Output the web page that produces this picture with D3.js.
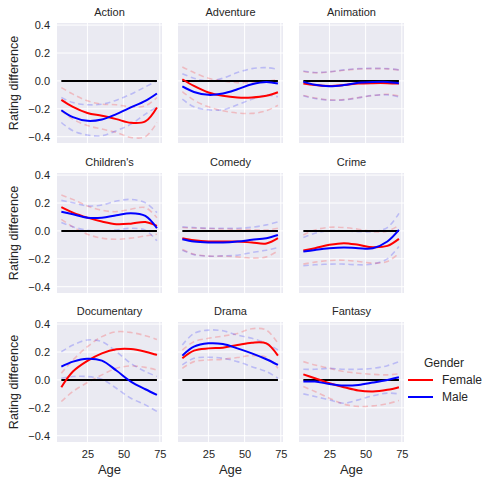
<!DOCTYPE html>
<html>
<head>
<meta charset="utf-8">
<script src="https://cdn.jsdelivr.net/npm/d3@7"></script>
<style>
  body { margin: 0; background: #fff; }
  svg { font-family: "Liberation Sans", Arial, sans-serif; }
  .tick text { fill: #262626; font-size: 11px; }
</style>
</head>
<body>
<div id="chart"></div>
<script>
// genres in facet order (3 x 3)
const genres = ["Action", "Adventure", "Animation", "Children's", "Comedy", "Crime", "Documentary", "Drama", "Fantasy"];
const ages = [7, 15, 25, 35, 45, 55, 65, 73];
const xTicks = [25, 50, 75];
const yTicks = [-0.4, -0.2, 0.0, 0.2, 0.4];

// mean rating difference, female
const femaleMean = [
  [-0.136, -0.186, -0.23, -0.25, -0.274, -0.30, -0.29, -0.19],
  [0.012, -0.036, -0.083, -0.107, -0.119, -0.119, -0.107, -0.081],
  [-0.019, -0.03, -0.036, -0.03, -0.019, -0.016, -0.016, -0.019],
  [0.171, 0.131, 0.095, 0.067, 0.048, 0.052, 0.064, 0.036],
  [-0.052, -0.067, -0.076, -0.076, -0.076, -0.083, -0.09, -0.052],
  [-0.14, -0.124, -0.10, -0.088, -0.10, -0.117, -0.107, -0.057],
  [-0.052, 0.06, 0.136, 0.19, 0.219, 0.221, 0.202, 0.179],
  [0.155, 0.21, 0.226, 0.231, 0.25, 0.267, 0.262, 0.174],
  [0.04, 0.012, -0.024, -0.052, -0.076, -0.083, -0.071, -0.052]
];
const femaleUpper = [
  [-0.048, -0.095, -0.143, -0.167, -0.171, -0.186, -0.179, -0.119],
  [0.10, 0.06, 0.019, 0.0, -0.012, -0.012, -0.005, 0.01],
  [0.068, 0.058, 0.064, 0.076, 0.085, 0.088, 0.086, 0.078],
  [0.257, 0.226, 0.179, 0.148, 0.138, 0.155, 0.167, 0.095],
  [0.024, 0.02, 0.017, 0.014, 0.012, 0.009, 0.007, 0.019],
  [-0.029, 0.007, 0.026, 0.024, 0.012, -0.005, -0.002, 0.04],
  [0.048, 0.143, 0.238, 0.31, 0.345, 0.34, 0.317, 0.29],
  [0.214, 0.274, 0.298, 0.314, 0.333, 0.367, 0.357, 0.262],
  [0.131, 0.107, 0.083, 0.06, 0.048, 0.04, 0.036, 0.043]
];
const femaleLower = [
  [-0.214, -0.274, -0.32, -0.345, -0.369, -0.405, -0.40, -0.298],
  [-0.076, -0.138, -0.186, -0.214, -0.23, -0.233, -0.214, -0.174],
  [-0.105, -0.122, -0.136, -0.134, -0.12, -0.105, -0.096, -0.108],
  [0.083, 0.029, -0.024, -0.052, -0.06, -0.052, -0.036, -0.024],
  [-0.133, -0.167, -0.181, -0.181, -0.186, -0.195, -0.186, -0.143],
  [-0.238, -0.224, -0.212, -0.21, -0.219, -0.231, -0.219, -0.16],
  [-0.155, -0.083, -0.019, 0.036, 0.083, 0.10, 0.09, 0.071],
  [0.083, 0.131, 0.143, 0.148, 0.16, 0.174, 0.162, 0.083],
  [-0.048, -0.083, -0.131, -0.174, -0.19, -0.186, -0.171, -0.148]
];
// mean rating difference, male
const maleMean = [
  [-0.21, -0.26, -0.286, -0.276, -0.238, -0.19, -0.143, -0.09],
  [-0.04, -0.079, -0.10, -0.09, -0.06, -0.024, -0.007, -0.019],
  [-0.007, -0.028, -0.038, -0.03, -0.014, -0.008, -0.007, -0.016],
  [0.138, 0.119, 0.095, 0.095, 0.112, 0.126, 0.107, 0.019],
  [-0.06, -0.076, -0.083, -0.083, -0.076, -0.064, -0.052, -0.029],
  [-0.148, -0.136, -0.124, -0.119, -0.124, -0.124, -0.076, 0.007],
  [0.095, 0.131, 0.152, 0.138, 0.067, -0.012, -0.067, -0.107],
  [0.174, 0.238, 0.262, 0.257, 0.226, 0.19, 0.148, 0.107],
  [-0.012, -0.012, -0.029, -0.04, -0.036, -0.019, 0.0, 0.019]
];
const maleUpper = [
  [-0.119, -0.155, -0.171, -0.167, -0.138, -0.095, -0.043, 0.0],
  [0.052, 0.019, 0.0, 0.019, 0.06, 0.088, 0.095, 0.083],
  [0.071, 0.06, 0.066, 0.079, 0.088, 0.09, 0.088, 0.079],
  [0.219, 0.202, 0.179, 0.186, 0.214, 0.226, 0.202, 0.131],
  [0.029, 0.024, 0.019, 0.019, 0.019, 0.026, 0.043, 0.064],
  [-0.048, -0.017, 0.002, 0.0, -0.005, -0.005, 0.024, 0.126],
  [0.202, 0.25, 0.286, 0.274, 0.202, 0.119, 0.06, 0.024],
  [0.25, 0.333, 0.357, 0.352, 0.321, 0.298, 0.262, 0.214],
  [0.076, 0.076, 0.083, 0.076, 0.076, 0.083, 0.102, 0.131]
];
const maleLower = [
  [-0.298, -0.357, -0.388, -0.393, -0.357, -0.31, -0.238, -0.186],
  [-0.131, -0.186, -0.207, -0.207, -0.171, -0.131, -0.102, -0.114],
  [-0.107, -0.126, -0.138, -0.136, -0.121, -0.104, -0.10, -0.114],
  [0.06, 0.029, 0.005, 0.0, 0.007, 0.019, 0.005, -0.071],
  [-0.138, -0.17, -0.181, -0.179, -0.174, -0.155, -0.138, -0.119],
  [-0.25, -0.243, -0.238, -0.238, -0.243, -0.238, -0.20, -0.112],
  [0.012, 0.024, 0.024, 0.005, -0.06, -0.131, -0.179, -0.226],
  [0.107, 0.155, 0.162, 0.155, 0.131, 0.095, 0.06, 0.012],
  [-0.10, -0.119, -0.143, -0.167, -0.143, -0.114, -0.095, -0.10]
];

const width = 482, height = 478;
const panelW = 105, panelH = 120;
const colX = [57, 178, 299];
const rowY = [23, 173, 322];
const femaleColor = "#ff0000", maleColor = "#0000ff";

const svg = d3.select("#chart").append("svg")
  .attr("width", width)
  .attr("height", height);

const x = d3.scaleLinear().domain([4, 76.5]).range([0, panelW]);
const y = d3.scaleLinear().domain([-0.445, 0.415]).range([panelH, 0]);
const fmt = d => d3.format(".1f")(d).replace("-", "\u2212");

const line = d3.line()
  .x((d, i) => x(ages[i]))
  .y(d => y(d))
  .curve(d3.curveCatmullRom);

genres.forEach(function(genre, gi) {
  const col = gi % 3, row = Math.floor(gi / 3);
  const g = svg.append("g")
    .attr("transform", `translate(${colX[col]},${rowY[row]})`);

  g.append("rect")
    .attr("width", panelW)
    .attr("height", panelH)
    .attr("fill", "#eaeaf2");

  // grid
  g.selectAll(".gx").data(xTicks).enter().append("line")
    .attr("x1", d => x(d)).attr("x2", d => x(d))
    .attr("y1", 0).attr("y2", panelH)
    .attr("stroke", "#fff").attr("stroke-width", 1);
  g.selectAll(".gy").data(yTicks).enter().append("line")
    .attr("x1", 0).attr("x2", panelW)
    .attr("y1", d => y(d)).attr("y2", d => y(d))
    .attr("stroke", "#fff").attr("stroke-width", 1);

  // axes
  if (col === 0) {
    const ya = g.append("g")
      .call(d3.axisLeft(y).tickValues(yTicks).tickSize(0).tickPadding(7).tickFormat(fmt));
    ya.select(".domain").remove();
    g.append("text")
      .attr("transform", `translate(${14 - colX[0]},${panelH / 2}) rotate(-90)`)
      .attr("text-anchor", "middle")
      .attr("dy", "0.35em")
      .attr("fill", "#262626")
      .style("font-size", "12.5px")
      .text("Rating difference");
  }
  if (row === 2) {
    const xa = g.append("g")
      .attr("transform", `translate(0,${panelH})`)
      .call(d3.axisBottom(x).tickValues(xTicks).tickSize(0).tickPadding(8));
    xa.select(".domain").remove();
    g.append("text")
      .attr("x", panelW / 2)
      .attr("y", panelH + 32)
      .attr("text-anchor", "middle")
      .attr("fill", "#262626")
      .style("font-size", "13px")
      .text("Age");
  }

  // title
  g.append("text")
    .attr("x", panelW / 2)
    .attr("y", -7)
    .attr("text-anchor", "middle")
    .attr("fill", "#262626")
    .style("font-size", "11px")
    .text(genre);

  // confidence bounds
  const dashed = [
    [femaleUpper[gi], femaleColor], [femaleLower[gi], femaleColor],
    [maleUpper[gi], maleColor], [maleLower[gi], maleColor]
  ];
  dashed.forEach(function(s) {
    g.append("path")
      .attr("d", line(s[0]))
      .attr("fill", "none")
      .attr("stroke", s[1])
      .attr("stroke-opacity", 0.2)
      .attr("stroke-width", 1.6)
      .attr("stroke-dasharray", "5.5,3.5");
  });

  // zero reference
  g.append("path")
    .attr("d", line(ages.map(() => 0)))
    .attr("fill", "none")
    .attr("stroke", "#000")
    .attr("stroke-width", 2);

  g.append("path")
    .attr("d", line(femaleMean[gi]))
    .attr("fill", "none")
    .attr("stroke", femaleColor)
    .attr("stroke-width", 2);
  g.append("path")
    .attr("d", line(maleMean[gi]))
    .attr("fill", "none")
    .attr("stroke", maleColor)
    .attr("stroke-width", 2);
});

// legend
const legend = svg.append("g").attr("transform", "translate(408,363)");
legend.append("text")
  .attr("x", 36).attr("y", 0).attr("dy", "0.35em")
  .attr("text-anchor", "middle")
  .attr("fill", "#262626")
  .style("font-size", "12px")
  .text("Gender");
[["Female", femaleColor], ["Male", maleColor]].forEach(function(d, i) {
  legend.append("line")
    .attr("x1", 0).attr("x2", 25)
    .attr("y1", 17 + i * 17).attr("y2", 17 + i * 17)
    .attr("stroke", d[1]).attr("stroke-width", 2);
  legend.append("text")
    .attr("x", 34).attr("y", 17 + i * 17).attr("dy", "0.35em")
    .attr("fill", "#262626")
    .style("font-size", "12px")
    .text(d[0]);
});
</script>
</body>
</html>
